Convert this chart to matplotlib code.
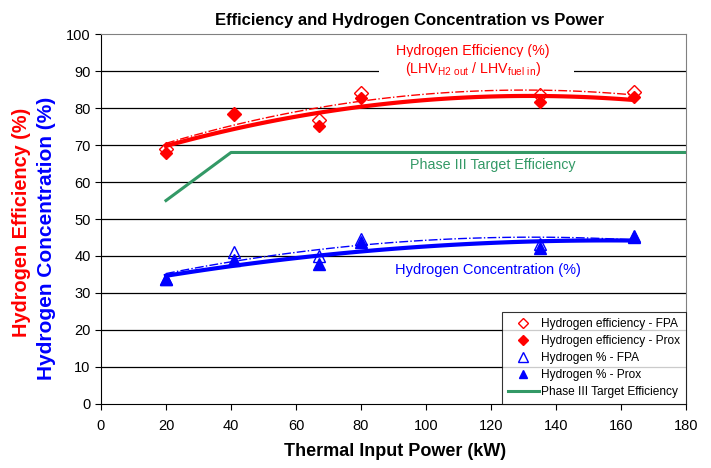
import numpy as np
import matplotlib
matplotlib.use("Agg")
import matplotlib.pyplot as plt

plt.rcParams['font.family'] = ['Liberation Sans', 'DejaVu Sans']

# Thermal input power (kW)
power = [20, 41, 67, 80, 135, 164]

# Hydrogen efficiency (%)
eff_fpa = [69.0, 78.5, 76.8, 84.2, 83.5, 84.3]
eff_prox = [67.8, 78.3, 75.2, 82.6, 81.7, 83.1]

# Hydrogen concentration (%)
h2_fpa = [33.8, 41.0, 40.0, 44.5, 43.2, 45.4]
h2_prox = [33.8, 38.9, 37.8, 43.7, 42.2, 45.1]

# Phase III target efficiency
target_power = [20, 40, 180]
target_eff = [55, 68, 68]

RED = '#FF0000'
BLUE = '#0000FF'
GREEN = '#339966'

fig = plt.figure(figsize=(7.11, 4.68), dpi=100)
ax = fig.add_axes([0.142, 0.137, 0.823, 0.79])

# horizontal gridlines
for yv in range(10, 100, 10):
    ax.axhline(yv, color='black', lw=0.9, zorder=0)


def trend(x, y, deg=2):
    c = np.polyfit(x, y, deg)
    xs = np.linspace(min(x), max(x), 60)
    return xs, np.polyval(c, xs)


# second-order trendlines
xs, ys = trend(power, eff_fpa)
ax.plot(xs, ys, color=RED, lw=1.0, ls='-.', zorder=3)
xs, ys = trend(power, eff_prox)
ax.plot(xs, ys, color=RED, lw=3.0, zorder=3)
xs, ys = trend(power, h2_fpa)
ax.plot(xs, ys, color=BLUE, lw=1.0, ls='-.', zorder=3)
xs, ys = trend(power, h2_prox)
ax.plot(xs, ys, color=BLUE, lw=3.0, zorder=3)

ax.plot(power, eff_fpa, ls='none', marker='D', ms=7, mfc='none', mec=RED,
        mew=1.0, label='Hydrogen efficiency - FPA', zorder=4)
ax.plot(power, eff_prox, ls='none', marker='D', ms=6, mfc=RED, mec=RED,
        label='Hydrogen efficiency - Prox', zorder=4)
ax.plot(power, h2_fpa, ls='none', marker='^', ms=9, mfc='none', mec=BLUE,
        mew=1.0, label='Hydrogen % - FPA', zorder=4)
ax.plot(power, h2_prox, ls='none', marker='^', ms=8, mfc=BLUE, mec=BLUE,
        label='Hydrogen % - Prox', zorder=4)
ax.plot(target_power, target_eff, color=GREEN, lw=2.2,
        label='Phase III Target Efficiency', zorder=3)

# in-plot annotations
ax.text(114.5, 95.4, 'Hydrogen Efficiency (%)', color=RED, fontsize=10.3,
        ha='center', va='center', zorder=2)
ax.text(114.5, 90.6, r'(LHV$_{\mathregular{H2\ out}}$ / LHV$_{\mathregular{fuel\ in}}$)',
        color=RED, fontsize=10.3, ha='center', va='center', zorder=2,
        bbox=dict(facecolor='white', edgecolor='none', pad=2))
ax.add_patch(plt.Rectangle((85.5, 89.3), 60, 2.2, facecolor='white',
                           edgecolor='none', zorder=1))
ax.text(120.5, 64.6, 'Phase III Target Efficiency', color=GREEN, fontsize=10.3,
        ha='center', va='center')
ax.text(119, 36.2, 'Hydrogen Concentration (%)', color=BLUE, fontsize=10.5,
        ha='center', va='center')

ax.set_xlim(0, 180)
ax.set_ylim(0, 100)
ax.set_xticks(range(0, 181, 20))
ax.set_yticks(range(0, 101, 10))
ax.tick_params(axis='both', labelsize=10.5, direction='out', length=4,
               width=0.8, colors='black')
ax.tick_params(axis='x', pad=7)

for side in ['top', 'right']:
    ax.spines[side].set_color('#808080')
for side in ['left', 'bottom']:
    ax.spines[side].set_color('black')

fig.text(410 / 711, 1 - 20 / 468, 'Efficiency and Hydrogen Concentration vs Power',
         fontsize=12, fontweight='bold', ha='center', va='center')
fig.text(395 / 711, 1 - 452 / 468, 'Thermal Input Power (kW)', fontsize=13,
         fontweight='bold', ha='center', va='center')

fig.text(22 / 711, 1 - 222 / 468, 'Hydrogen Efficiency (%)', color=RED,
         fontsize=14.3, fontweight='bold', rotation=90, ha='center', va='center')
fig.text(47 / 711, 1 - 238 / 468, 'Hydrogen Concentration (%)', color=BLUE,
         fontsize=15, fontweight='bold', rotation=90, ha='center', va='center')

leg = ax.legend(loc='lower right', fontsize=8.6, frameon=True, fancybox=False,
                edgecolor='black', borderaxespad=0.0, handlelength=2.6,
                borderpad=0.5, labelspacing=0.42, handletextpad=0.2,
                markerscale=0.8)
leg.get_frame().set_linewidth(0.8)

fig.savefig('out.png', dpi=100)
